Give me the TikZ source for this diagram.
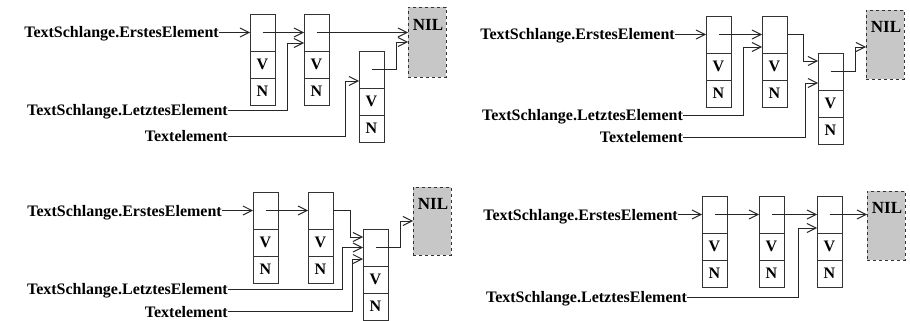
\documentclass[tikz,border=0pt]{standalone}
\usepackage{fontspec}
\setmainfont{Liberation Serif}
\usetikzlibrary{arrows.meta}
\tikzset{
  x=1pt, y=-1pt,
  cell/.style={draw=black!80, line width=0.9pt, minimum width=25pt, inner sep=0pt, outer sep=0pt,
    font=\fontsize{16}{16}\selectfont\bfseries},
  nilbox/.style={draw=black!80, dashed, fill=black!22, line width=0.9pt, minimum width=38pt,
    inner sep=0pt, outer sep=0pt, anchor=north west},
  niltext/.style={anchor=north, inner sep=0pt, font=\fontsize{17}{17}\selectfont\bfseries},
  lbl/.style={anchor=east, inner sep=0pt, text height=11pt, text depth=0pt,
    font=\fontsize{16}{16}\selectfont\bfseries},
  arr/.style={draw=black!85, line width=0.9pt, -{Straight Barb[length=9pt,width=9pt,line width=1pt]}},
}
\newcommand{\lelem}[3]{%
  \node[cell, minimum height=37pt, anchor=north west] (#1) at (#2,#3) {};
  \node[cell, minimum height=27pt, anchor=north] (#1v) at (#1.south) {V};
  \node[cell, minimum height=27pt, anchor=north] (#1n) at (#1v.south) {N};
}
\begin{document}
\begin{tikzpicture}
\useasboundingbox (0,0) rectangle (910,321);

% ---------- Panel 1 ----------
\lelem{a1}{250}{14}
\lelem{a2}{304}{14}
\lelem{a3}{359}{51}
\node[nilbox, minimum height=70pt] (nil1) at (408,7) {};
\node[niltext] (nil1t) at ([xshift=1pt,yshift=-12pt]nil1.north) {NIL};
\node[lbl] (e1) at (219,32.5) {TextSchlange.ErstesElement};
\node[lbl] (l1) at (228,110) {TextSchlange.LetztesElement};
\node[lbl] (t1) at (228,136) {Textelement};
\draw[arr] (e1.east) -- (a1.west);
\draw[arr] (a1.center) -- (a2.west);
\draw[arr] (a2.center) -- (a2.center -| nil1.west);
\draw[arr] (l1.east) -| ([xshift=-17pt,yshift=-10.5pt]a2.west) -- ([yshift=-10.5pt]a2.west);
\draw[arr] (t1.east) -| ([xshift=-14pt,yshift=-11.5pt]a3.west) -- ([yshift=-11.5pt]a3.west);
\draw[arr] (a3.center) -| ([xshift=-12pt]nil1.west) -- (nil1.west);

% ---------- Panel 2 ----------
\lelem{b1}{706}{16}
\lelem{b2}{762}{16}
\lelem{b3}{818}{53}
\node[nilbox, minimum height=69pt] (nil2) at (866,10) {};
\node[niltext] (nil2t) at ([xshift=1pt,yshift=-11pt]nil2.north) {NIL};
\node[lbl] (e2) at (675,34.5) {TextSchlange.ErstesElement};
\node[lbl] (l2) at (683,115) {TextSchlange.LetztesElement};
\node[lbl] (t2) at (683,137) {Textelement};
\draw[arr] (e2.east) -- (b1.west);
\draw[arr] (b1.center) -- (b2.west);
\draw[arr] (l2.east) -| ([xshift=-19pt,yshift=-12.5pt]b2.west) -- ([yshift=-12.5pt]b2.west);
\draw[arr] (b2.east) -| ([xshift=-15pt,yshift=10.5pt]b3.west) -- ([yshift=10.5pt]b3.west);
\draw[arr] (t2.east) -| ([xshift=-13pt,yshift=-11.5pt]b3.west) -- ([yshift=-11.5pt]b3.west);
\draw[arr] (b3.center) -| ([xshift=-11pt,yshift=-2.5pt]nil2.west) -- ([yshift=-2.5pt]nil2.west);

% ---------- Panel 3 ----------
\lelem{c1}{253}{192}
\lelem{c2}{308}{192}
\lelem{c3}{363}{229}
\node[nilbox, minimum height=68pt] (nil3) at (413,187) {};
\node[niltext] (nil3t) at ([xshift=1pt,yshift=-11pt]nil3.north) {NIL};
\node[lbl] (e3) at (222,210.5) {TextSchlange.ErstesElement};
\node[lbl] (l3) at (228,289) {TextSchlange.LetztesElement};
\node[lbl] (t3) at (228,311.5) {Textelement};
\draw[arr] (e3.east) -- (c1.west);
\draw[arr] (c1.center) -- (c2.west);
\draw[arr] (c2.east) -| ([xshift=-13pt,yshift=10.5pt]c3.west) -- ([yshift=10.5pt]c3.west);
\draw[arr] (l3.east) -| ([xshift=-21pt]c3.west) -- (c3.west);
\draw[arr] (t3.east) -| ([xshift=-11pt,yshift=-11.5pt]c3.west) -- ([yshift=-11.5pt]c3.west);
\draw[arr] (c3.center) -| ([xshift=-13pt]nil3.west) -- (nil3.west);

% ---------- Panel 4 ----------
\lelem{d1}{702}{196}
\lelem{d2}{759}{196}
\lelem{d3}{817}{196}
\node[nilbox, minimum height=69pt] (nil4) at (867,191) {};
\node[niltext] (nil4t) at ([xshift=1pt,yshift=-11pt]nil4.north) {NIL};
\node[lbl] (e4) at (678,214.5) {TextSchlange.ErstesElement};
\node[lbl] (l4) at (687,297) {TextSchlange.LetztesElement};
\draw[arr] (e4.east) -- (d1.west);
\draw[arr] (d1.center) -- (d2.west);
\draw[arr] (d2.center) -- (d3.west);
\draw[arr] (d3.center) -- (d3.center -| nil4.west);
\draw[arr] (l4.east) -| ([xshift=-19pt,yshift=-13.5pt]d3.west) -- ([yshift=-13.5pt]d3.west);
\end{tikzpicture}
\end{document}
